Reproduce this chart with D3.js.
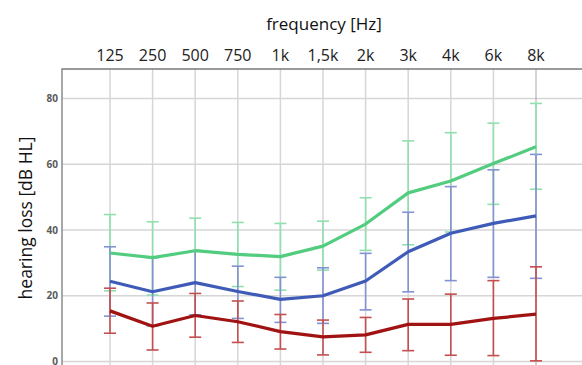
<!DOCTYPE html>
<html>
<head>
<meta charset="utf-8">
<script src="https://cdn.jsdelivr.net/npm/d3@7"></script>
<style>
  body { margin: 0; background: #fff; overflow: hidden; }
  svg { display: block; font-family: "Open Sans", sans-serif; }
</style>
</head>
<body>
<svg width="582" height="365"></svg>
<script>
// frequencies on the top axis
const freqs = ["125", "250", "500", "750", "1k", "1,5k", "2k", "3k", "4k", "6k", "8k"];
const yTicks = [0, 20, 40, 60, 80];

// group means and error bar ends (dB HL)
const greenMean  = [33.0, 31.6, 33.7, 32.6, 31.9, 35.1, 41.8, 51.3, 54.9, 60.2, 65.3];
const greenUpper = [44.7, 42.5, 43.6, 42.3, 42.0, 42.7, 49.8, 67.1, 69.6, 72.5, 78.5];
const greenLower = [21.5, 20.2, 23.8, 22.8, 21.7, 27.8, 33.8, 35.5, 39.4, 47.8, 52.4];

const blueMean  = [24.4, 21.2, 24.0, 21.3, 18.9, 20.0, 24.5, 33.4, 39.0, 42.0, 44.3];
const blueUpper = [34.9, 31.6, 33.7, 29.0, 25.6, 28.5, 32.9, 45.4, 53.2, 58.3, 63.0];
const blueLower = [13.8, 10.8, 14.2, 13.1, 11.9, 11.6, 15.7, 21.2, 24.6, 25.6, 25.3];

const redMean  = [15.4, 10.7, 14.0, 12.1, 9.1, 7.5, 8.1, 11.3, 11.3, 13.1, 14.4];
const redUpper = [22.3, 17.8, 20.7, 18.4, 14.3, 12.6, 13.4, 19.0, 20.5, 24.6, 28.8];
const redLower = [8.6, 3.5, 7.4, 5.8, 3.8, 2.0, 2.8, 3.3, 1.9, 1.8, 0.2];

const series = [
    { mean: greenMean, upper: greenUpper, lower: greenLower, line: "#52cc7e", bar: "#8fe0ad" },
    { mean: blueMean,  upper: blueUpper,  lower: blueLower,  line: "#3f5bb8", bar: "#8292d2" },
    { mean: redMean,   upper: redUpper,   lower: redLower,   line: "#a11212", bar: "#c54e4e" }
];

const plotLeft = 62, plotTop = 69, plotRight = 582, plotBottom = 365;

const x = d3.scalePoint().domain(freqs).range([110, 536]);
const y = d3.scaleLinear().domain([0, 80]).range([361.5, 98.5]);

const svg = d3.select("svg");

// grid
svg.append("g")
    .selectAll("line")
    .data(yTicks)
    .enter().append("line")
    .attr("x1", plotLeft).attr("x2", plotRight)
    .attr("y1", d => y(d)).attr("y2", d => y(d))
    .attr("stroke", "#d6d6d6")
    .attr("stroke-width", 1.5);

svg.append("g")
    .selectAll("line")
    .data(freqs)
    .enter().append("line")
    .attr("x1", d => x(d)).attr("x2", d => x(d))
    .attr("y1", plotTop).attr("y2", plotBottom)
    .attr("stroke", (d, i) => i === freqs.length - 1 ? "#a8a8a8" : "#d6d6d6")
    .attr("stroke-width", (d, i) => i === freqs.length - 1 ? 1 : 1.5);

// frame (left and top)
svg.append("path")
    .attr("d", `M${plotLeft},${plotBottom}V${plotTop}H${plotRight}`)
    .attr("fill", "none")
    .attr("stroke", "#7a7a7a")
    .attr("stroke-width", 1.3);

// y tick labels
svg.append("g")
    .selectAll("text")
    .data(yTicks)
    .enter().append("text")
    .attr("x", 58)
    .attr("y", d => y(d) + 3.5)
    .attr("text-anchor", "end")
    .style("font-size", "10px")
    .style("font-weight", "bold")
    .style("fill", "#5a5a5a")
    .text(d => d);

// top axis labels
svg.append("g")
    .selectAll("text")
    .data(freqs)
    .enter().append("text")
    .attr("x", d => x(d))
    .attr("y", 61)
    .attr("text-anchor", "middle")
    .style("font-size", "16px")
    .style("fill", "#222")
    .text(d => d);

svg.append("text")
    .attr("x", 324)
    .attr("y", 30)
    .attr("text-anchor", "middle")
    .style("font-size", "17px")
    .style("fill", "#111")
    .text("frequency [Hz]");

svg.append("text")
    .attr("transform", "translate(32,218) rotate(-90)")
    .attr("text-anchor", "middle")
    .style("font-size", "17.5px")
    .style("fill", "#111")
    .text("hearing loss [dB HL]");

// error bars
const cap = 6;
series.forEach(s => {
    const g = svg.append("g")
        .attr("stroke", s.bar)
        .attr("stroke-width", 1.6)
        .attr("fill", "none");
    freqs.forEach((f, i) => {
        const cx = x(f);
        g.append("line")
            .attr("x1", cx).attr("x2", cx)
            .attr("y1", y(s.upper[i])).attr("y2", y(s.lower[i]));
        [s.upper[i], s.lower[i]].forEach(v => {
            g.append("line")
                .attr("x1", cx - cap).attr("x2", cx + cap)
                .attr("y1", y(v)).attr("y2", y(v));
        });
    });
});

// mean lines
const line = d3.line()
    .x((d, i) => x(freqs[i]))
    .y(d => y(d));

series.forEach(s => {
    svg.append("path")
        .datum(s.mean)
        .attr("d", line)
        .attr("fill", "none")
        .attr("stroke", s.line)
        .attr("stroke-width", 3.2)
        .attr("stroke-linejoin", "round");
});
</script>
</body>
</html>
